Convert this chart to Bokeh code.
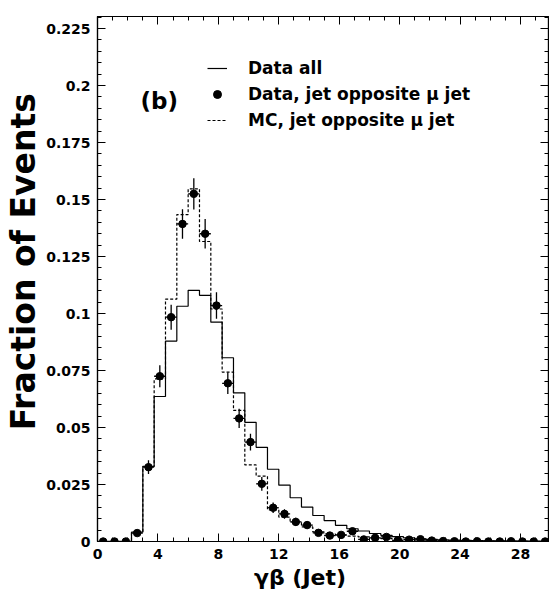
from bokeh.plotting import figure
from bokeh.models import (Range1d, LinearAxis, FixedTicker, Legend, LegendItem, Label,
                          CustomJSTickFormatter)
from bokeh.embed import file_html
from bokeh.resources import INLINE

# ---------------- data ----------------
bin_edges = [0.0, 0.75, 1.5, 2.25, 3.0, 3.75, 4.5, 5.25, 6.0, 6.75,
             7.5, 8.25, 9.0, 9.75, 10.5, 11.25, 12.0, 12.75, 13.5, 14.25,
             15.0, 15.75, 16.5, 17.25, 18.0, 18.75, 19.5, 20.25, 21.0, 21.75,
             22.5, 23.25, 24.0, 24.75, 25.5, 26.25, 27.0, 27.75, 28.5, 29.25, 30.0]

data_all = [0.0, 0.0, 0.0, 0.0041, 0.0329, 0.0636, 0.0879, 0.1032, 0.1102, 0.1080,
            0.0962, 0.0806, 0.0652, 0.0523, 0.0413, 0.0317, 0.0247, 0.0192, 0.0151, 0.0114,
            0.0092, 0.0071, 0.0056, 0.0046, 0.0035, 0.0027, 0.0021, 0.0016, 0.0012, 0.0009,
            0.0007, 0.0006, 0.0005, 0.0004, 0.0003, 0.0003, 0.0002, 0.0002, 0.0001, 0.0001]

data_opp = [0.0, 0.0, 0.0, 0.0037, 0.0326, 0.0725, 0.0984, 0.1393, 0.1525, 0.1350,
            0.1035, 0.0694, 0.0540, 0.0436, 0.0253, 0.0148, 0.0121, 0.0086, 0.0072, 0.0038,
            0.0026, 0.0029, 0.0045, 0.0009, 0.0016, 0.0020, 0.0005, 0.0008, 0.0010, 0.0004,
            0.0002, 0.0001, 0.0, 0.0001, 0.0, 0.0, 0.0001, 0.0, 0.0, 0.0]

data_opp_err = [0.0, 0.0, 0.0, 0.0012, 0.0030, 0.0048, 0.0055, 0.0065, 0.0069, 0.0065,
                0.0058, 0.0047, 0.0042, 0.0037, 0.0030, 0.0023, 0.0021, 0.0018, 0.0016, 0.0012,
                0.0010, 0.0011, 0.0013, 0.0006, 0.0008, 0.0009, 0.0004, 0.0005, 0.0006, 0.0004,
                0.0002, 0.0002, 0.0, 0.0002, 0.0, 0.0, 0.0002, 0.0, 0.0, 0.0]

mc_opp = [0.0, 0.0, 0.0, 0.0040, 0.0330, 0.0713, 0.1063, 0.1434, 0.1547, 0.1316,
          0.1020, 0.0743, 0.0575, 0.0336, 0.0287, 0.0139, 0.0107, 0.0085, 0.0064, 0.0042,
          0.0033, 0.0028, 0.0024, 0.0020, 0.0016, 0.0013, 0.0010, 0.0008, 0.0006, 0.0005,
          0.0004, 0.0003, 0.0003, 0.0002, 0.0002, 0.0001, 0.0001, 0.0001, 0.0001, 0.0001]

x_major_ticks = [0, 4, 8, 12, 16, 20, 24, 28]
x_minor_ticks = list(range(0, 30))
y_major_ticks = [0.0, 0.025, 0.05, 0.075, 0.1, 0.125, 0.15, 0.175, 0.2, 0.225]
y_tick_labels = ["0", "0.025", "0.05", "0.075", "0.1", "0.125", "0.15", "0.175", "0.2", "0.225"]
y_minor_ticks = [0.005 * k for k in range(47)]

legend_labels = ["Data all", "Data, jet opposite \u03bc jet", "MC, jet opposite \u03bc jet"]
x_title = "\u03b3\u03b2 (Jet)"
y_title = "Fraction of Events"
panel_tag = "(b)"

# ---------------- derived ----------------
centers = [(bin_edges[i] + bin_edges[i + 1]) / 2 for i in range(len(data_opp))]
step_all_y = data_all + [data_all[-1]]
step_mc_y = mc_opp + [mc_opp[-1]]

FONT = "DejaVu Sans"
NBSP = "\u00a0"

p = figure(width=549, height=608,
           x_range=Range1d(0, 29.85), y_range=Range1d(0, 0.2303),
           output_backend="svg", toolbar_location=None,
           min_border_left=97, min_border_right=1, min_border_top=16, min_border_bottom=67)
p.background_fill_color = "white"
p.border_fill_color = "white"
p.outline_line_color = "black"
p.outline_line_width = 1.2
p.xgrid.visible = False
p.ygrid.visible = False

# histograms
r_all = p.step(bin_edges, step_all_y, mode="after", line_color="black", line_width=1.2)
r_mc = p.step(bin_edges, step_mc_y, mode="after", line_color="black", line_width=1.2,
              line_dash="3 2")

# data points with error bars
p.segment(x0=centers, y0=[v - e for v, e in zip(data_opp, data_opp_err)],
          x1=centers, y1=[v + e for v, e in zip(data_opp, data_opp_err)],
          line_color="black", line_width=1.3)
p.segment(x0=bin_edges[:-1], y0=data_opp, x1=bin_edges[1:], y1=data_opp,
          line_color="black", line_width=1.3)
r_pts = p.scatter(centers, data_opp, marker="circle", size=7.5,
                  fill_color="black", line_color="black")

# axes styling
def style_axis(ax, show_labels=True):
    ax.major_tick_in = 8
    ax.major_tick_out = 0
    ax.minor_tick_in = 4
    ax.minor_tick_out = 0
    ax.major_tick_line_color = "black"
    ax.minor_tick_line_color = "black"
    ax.axis_line_color = "black"
    ax.axis_line_width = 1.2
    ax.major_label_text_font = FONT
    ax.major_label_text_font_style = "bold"
    ax.major_label_text_font_size = "14px"
    ax.major_label_text_color = "black"
    if not show_labels:
        ax.formatter = CustomJSTickFormatter(code="return ''")
        ax.major_label_standoff = 0

p.xaxis.ticker = FixedTicker(ticks=x_major_ticks, minor_ticks=x_minor_ticks)
p.yaxis.ticker = FixedTicker(ticks=y_major_ticks, minor_ticks=y_minor_ticks)
p.yaxis.major_label_overrides = {t: s for t, s in zip(y_major_ticks, y_tick_labels)}
style_axis(p.xaxis[0])
style_axis(p.yaxis[0])
p.xaxis.major_label_standoff = 7
p.yaxis.major_label_standoff = 7

# axis titles (non-breaking spaces shift the visible text off-centre as in the reference)
p.xaxis.axis_label = x_title + NBSP * 6
p.xaxis.axis_label_text_font = FONT
p.xaxis.axis_label_text_font_style = "bold"
p.xaxis.axis_label_text_font_size = "22px"
p.xaxis.axis_label_standoff = 3
p.xaxis.axis_label_text_color = "black"

p.yaxis.axis_label = NBSP * 3 + y_title
p.yaxis.axis_label_text_font = FONT
p.yaxis.axis_label_text_font_style = "bold"
p.yaxis.axis_label_text_font_size = "33px"
p.yaxis.axis_label_standoff = 0
p.yaxis.axis_label_text_color = "black"

top_ax = LinearAxis(ticker=FixedTicker(ticks=x_major_ticks, minor_ticks=x_minor_ticks))
style_axis(top_ax, show_labels=False)
p.add_layout(top_ax, "above")
right_ax = LinearAxis(ticker=FixedTicker(ticks=y_major_ticks, minor_ticks=y_minor_ticks))
style_axis(right_ax, show_labels=False)
p.add_layout(right_ax, "right")

# legend
legend = Legend(items=[LegendItem(label=legend_labels[0], renderers=[r_all]),
                       LegendItem(label=legend_labels[1], renderers=[r_pts]),
                       LegendItem(label=legend_labels[2], renderers=[r_mc])],
                location=(110, 411), orientation="vertical",
                background_fill_alpha=0, border_line_color=None,
                padding=0, margin=0, spacing=6,
                glyph_width=20, glyph_height=20, label_height=20,
                label_standoff=21,
                label_text_font=FONT, label_text_font_style="bold",
                label_text_font_size="17px", label_text_color="black")
p.add_layout(legend)

p.add_layout(Label(x=2.85, y=0.1932, text=panel_tag, text_font=FONT,
                   text_font_style="bold", text_font_size="23px",
                   text_baseline="middle", text_align="left", text_color="black"))

open("out.html", "w").write(file_html(p, INLINE))
